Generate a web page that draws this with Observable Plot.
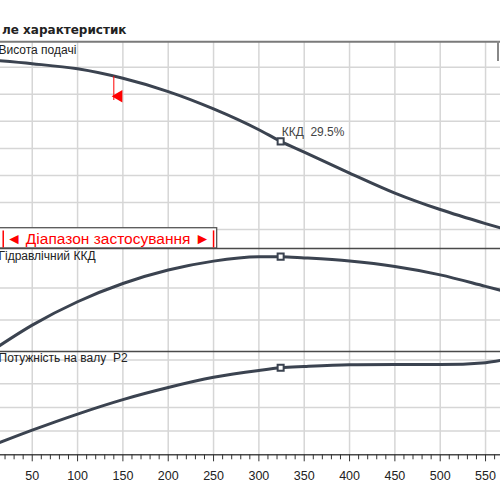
<!DOCTYPE html>
<html><head><meta charset="utf-8">
<script src="https://cdn.jsdelivr.net/npm/d3@7"></script>
<script src="https://cdn.jsdelivr.net/npm/@observablehq/plot@0.6"></script>
<style>
body{margin:0;background:#fff;width:500px;height:500px;overflow:hidden;position:relative;font-family:"Liberation Sans",Arial,sans-serif;}
#title{position:absolute;left:2px;top:23px;font:bold 12px "DejaVu Sans",sans-serif;color:#222;white-space:nowrap}
.panel{position:absolute;left:0}
#corner{position:absolute;left:497px;top:41px;width:2px;height:20px;background:#888}
</style></head><body>
<div id="title">ле характеристик</div>
<div id="p1" class="panel" style="top:30px"></div>
<div id="p2" class="panel" style="top:240px"></div>
<div id="p3" class="panel" style="top:343px"></div>
<div id="corner"></div>
<script>
// ---- data ----
const flow    = [10, 50, 100, 150, 200, 250, 300, 324, 350, 400, 450, 500, 550, 580];
const head    = [7.25, 7.13, 6.94, 6.59, 6.10, 5.46, 4.69, 4.26, 3.86, 3.09, 2.35, 1.74, 1.22, 0.93];
const hydEff  = [11.25, 18.4, 25.7, 31.4, 35.6, 38.4, 39.75, 39.8, 39.4, 38.4, 36.7, 34.1, 30.5, 28.3];
const power   = [0.0456, 0.104, 0.172, 0.233, 0.284, 0.327, 0.356, 0.367, 0.3726, 0.380, 0.381, 0.381, 0.389, 0.408];
const dutyFlow = 324;
const dutyLabel = "ККД  29.5%";
const rangeStart = 18, rangeEnd = 250, rangeBoxEnd = 254;
const minFlowMarker = 140;
const rangeLabel = "◄ Діапазон застосування ►";
const panelLabels = ["Висота подачі", "Гідравлічний ККД", "Потужність на валу  P2"];
const xMajor = [50, 100, 150, 200, 250, 300, 350, 400, 450, 500, 550];
const xMinor = d3.range(20, 570, 10).filter(v => v % 50 !== 0);
const headGrid = [1, 2, 3, 4, 5, 6, 7];
const effGrid = [20, 30];
const powerGrid = [0.1, 0.2, 0.3, 0.4];

// ---- style ----
const xDomain = [15.0, 566.5];
const curveColor = "#3b4350";
const gridColor = "#d6d6d6";
const sepColor = "#4a4a4a";
const font = "Liberation Sans, Arial, sans-serif";
const rows = flow.map((f, i) => ({flow: f, head: head[i], eff: hydEff[i], power: power[i]}));
const duty = rows.find(r => r.flow === dutyFlow);
const headAt = x => { const i = flow.findIndex(f => f >= x); const a = rows[i-1], b = rows[i]; return a.head + (b.head - a.head) * (x - a.flow) / (b.flow - a.flow); };

const common = (yDomain, h, mt, mb) => ({
  width: 500, height: h, marginTop: mt, marginBottom: mb, marginLeft: 0, marginRight: 0,
  style: {background: "transparent", overflow: "visible", fontFamily: font},
  x: {domain: xDomain, axis: null},
  y: {domain: yDomain, axis: null}
});
const grids = (yTicks) => [
  Plot.ruleY(yTicks, {stroke: gridColor, strokeWidth: 1.5}),
  Plot.ruleX(xMajor, {stroke: gridColor, strokeWidth: 1.5})
];
const curve = (key) => Plot.line(rows, {x: "flow", y: key, stroke: curveColor, strokeWidth: 3, curve: "monotone-x", clip: true});
const dutyDot = (key) => Plot.dot([duty], {x: "flow", y: key, symbol: "square", r: 3.4, stroke: curveColor, strokeWidth: 2, fill: "white"});
const label = (t, dyv) => Plot.text([t], {frameAnchor: "top-left", text: d => d, dx: -2, dy: dyv, fontSize: 12, fill: "#222", fontFamily: font});

// Panel 1: head
const y1 = [0.30, 7.94];
const p1 = Plot.plot({
  ...common(y1, 230, 11.3, 12),
  marks: [
    ...grids(headGrid),
    Plot.ruleY([y1[1]], {stroke: "#7a7a7a", strokeWidth: 2}),
    curve("head"),
    Plot.ruleX([minFlowMarker], {y1: headAt(minFlowMarker), y2: headAt(minFlowMarker) - 0.89, stroke: "red", strokeWidth: 1}),
    Plot.dot([minFlowMarker], {x: d => d, y: headAt(minFlowMarker) - 0.73, symbol: "triangle", r: 4.6, rotate: -90, fill: "red", stroke: "none", dx: 5}),
    dutyDot("head"),
    Plot.text([duty], {x: "flow", y: "head", text: () => dutyLabel, textAnchor: "start", dx: 1, dy: -9, fontSize: 12, fill: "#444", fontFamily: font}),
    Plot.rect([0], {x1: 0, x2: rangeBoxEnd, y1: y1[0], y2: 1.05, fill: "white", stroke: "#555", strokeWidth: 1.3}),
    Plot.ruleX([rangeStart, rangeEnd], {y1: y1[0] + 0.02, y2: 0.95, stroke: "red", strokeWidth: 1.5}),
    Plot.text([rangeLabel], {x: rangeStart, y: 0.66, text: d => d, textAnchor: "start", dx: 3, fontSize: 15.5, fill: "red", fontFamily: font}),
    label(panelLabels[0], 4)
  ]
});
document.getElementById("p1").append(p1);

// Panel 2: hydraulic efficiency
const y2 = [10.16, 42.34];
const p2 = Plot.plot({
  ...common(y2, 120, 8, 9),
  marks: [
    ...grids(effGrid),
    curve("eff"),
    dutyDot("eff"),
    Plot.ruleY([y2[1]], {stroke: sepColor, strokeWidth: 1.5}),
    label(panelLabels[1], 3)
  ]
});
document.getElementById("p2").append(p2);

// Panel 3: power
const y3 = [0, 0.436];
const p3 = Plot.plot({
  ...common(y3, 157, 8, 45.7),
  marks: [
    ...grids(powerGrid),
    curve("power"),
    dutyDot("power"),
    Plot.ruleY([y3[1]], {stroke: sepColor, strokeWidth: 1.5}),
    Plot.ruleY([0], {stroke: sepColor, strokeWidth: 1.5}),
    Plot.axisX(xMinor, {tickSize: 5, text: null, label: null, stroke: "#333"}),
    Plot.axisX(xMajor, {tickSize: 7, tickPadding: 9, label: null, fontSize: 12.5, fill: "#222", stroke: "#333", fontFamily: font}),
    label(panelLabels[2], 2)
  ]
});
document.getElementById("p3").append(p3);
</script>
</body></html>
